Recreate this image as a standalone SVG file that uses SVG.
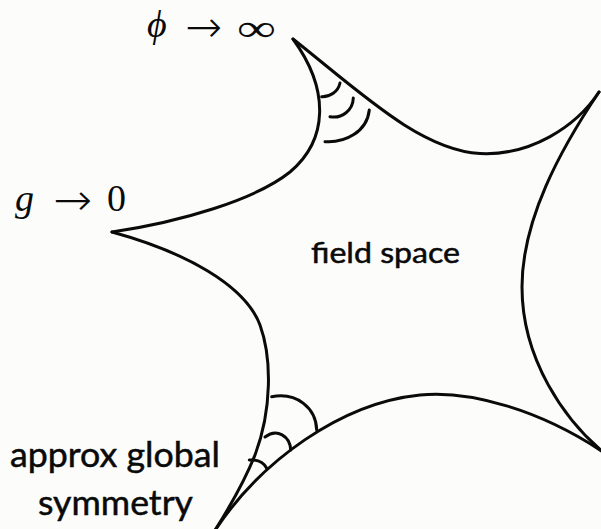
<svg xmlns="http://www.w3.org/2000/svg" width="601" height="529" viewBox="0 0 601 529">
<style>
.edge{fill:none;stroke:#0a0a0a;stroke-width:3;stroke-linecap:round;stroke-linejoin:round}
.mark{fill:none;stroke:#0a0a0a;stroke-width:3;stroke-linecap:round}
.math{font-family:"Liberation Serif","DejaVu Serif",serif;font-size:38px;fill:#0a0a0a}
.sym{font-family:"DejaVu Sans",sans-serif;font-weight:200;font-size:44px;fill:#0a0a0a}
.lbl{font-family:Lato,"Open Sans",sans-serif;fill:#0a0a0a;stroke:#0a0a0a;stroke-width:0.5}
</style>
<rect width="601" height="529" fill="#fcfdfb"/>
<g id="field-space-boundary">
<path class="edge" d="M293,39 C360,92 420,150 480,153.5 C530,156 576,127 599,92"/>
<path class="edge" d="M599,92 C560,150 522,220 522,287 C522,360 565,420 603,452"/>
<path class="edge" d="M603,452 C540,410 470,390 420,395 C342,403 260,460 212,535"/>
<path class="edge" d="M112,232 C185,252 245,285 260,325 C272,358 272,410 255,455 C245,480 228,510 212,535"/>
<path class="edge" d="M112,232 C180,222 255,200 290,172 C328,140 330,90 293,39"/>
</g>
<g id="top-angle-marks">
<path class="mark" d="M321.7,96.7 C330,97 338,92 340,83"/>
<path class="mark" d="M330,116.7 C342,119 353,110 353.3,98"/>
<path class="mark" d="M325,141.7 C345,143 367,132 369.3,110"/>
</g>
<g id="bottom-angle-marks">
<path class="mark" d="M249.3,460 Q262,459 266.7,468.3"/>
<path class="mark" d="M265,437 C277,428 290,436 290.7,450"/>
<path class="mark" d="M271.7,396.7 C297,392 316,408 316.7,430"/>
</g>
<g id="label-phi">
<text class="math" x="147" y="37" font-style="italic">ϕ</text>
<text class="sym" x="185" y="42" textLength="37" lengthAdjust="spacingAndGlyphs">→</text>
<text class="math" x="237" y="41" font-size="52" textLength="39" lengthAdjust="spacingAndGlyphs">∞</text>
</g>
<g id="label-g">
<text class="math" x="15" y="211" font-style="italic">g</text>
<text class="sym" x="53" y="215" textLength="39" lengthAdjust="spacingAndGlyphs">→</text>
<text class="math" x="107" y="211" font-size="40">0</text>
</g>
<g id="label-field-space">
<text class="lbl" x="311" y="263" font-size="28" textLength="149" lengthAdjust="spacingAndGlyphs">field space</text>
</g>
<g id="label-symmetry">
<text class="lbl" x="10" y="467" font-size="34" textLength="210" lengthAdjust="spacingAndGlyphs">approx global</text>
<text class="lbl" x="38" y="515" font-size="34" textLength="155" lengthAdjust="spacingAndGlyphs">symmetry</text>
</g>
</svg>
